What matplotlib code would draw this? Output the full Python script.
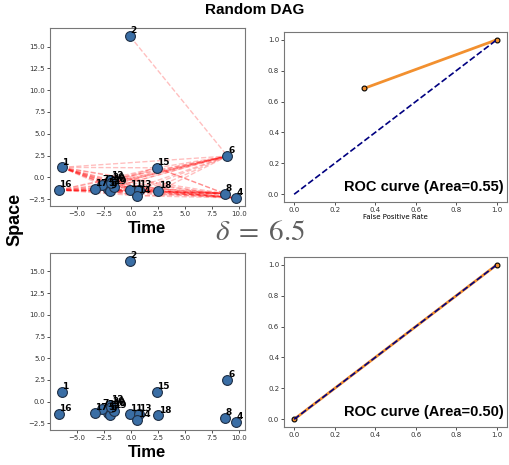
import matplotlib.pyplot as plt
from matplotlib.ticker import MultipleLocator

# node positions (time, space)
node_ids = list(range(1, 21))
time_x = [-6.4, -0.1, -2.2, 9.7, -2.1, 8.9, -2.7, 8.65, -1.9, -1.7,
          -0.1, -1.9, 0.7, 0.6, 2.4, -6.65, -3.35, 2.5, -1.6, -1.8]
space_y = [1.15, 16.2, -0.9, -2.35, -1.3, 2.45, -0.85, -1.85, -1.55, -0.8,
           -1.45, -0.35, -1.45, -2.1, 1.1, -1.45, -1.3, -1.6, -1.1, -0.6]

# edges of the random DAG (source, target)
edges = [(2, 6),
         (1, 6), (1, 15), (1, 7), (1, 3), (1, 12), (1, 20), (1, 10), (1, 19),
         (1, 11), (1, 13), (1, 14), (1, 18), (1, 8), (1, 4),
         (16, 17), (16, 5), (16, 9), (16, 19), (16, 11), (16, 13), (16, 14),
         (16, 18), (16, 8), (16, 4), (16, 6), (16, 15), (16, 3), (16, 7),
         (17, 6), (17, 8), (17, 4), (17, 18), (17, 14), (17, 15),
         (7, 6), (7, 8), (7, 4), (3, 6), (3, 8), (3, 4), (12, 6), (12, 15),
         (12, 8), (20, 6), (20, 4), (10, 6), (10, 8), (5, 4), (5, 6), (9, 8),
         (9, 4), (9, 14), (19, 6), (19, 4), (19, 18),
         (11, 6), (11, 8), (11, 4), (13, 6), (13, 8), (14, 4), (14, 8), (14, 6),
         (15, 6), (15, 8), (15, 4), (18, 6), (18, 8), (18, 4)]

# ROC curves
fpr_top = [0.345, 1.0]
tpr_top = [0.685, 1.0]
auc_top = 0.55
fpr_bot = [0.0, 1.0]
tpr_bot = [0.0, 1.0]
auc_bot = 0.50
delta = 6.5

bold_font = ['Liberation Sans', 'DejaVu Sans']
plt.rcParams['mathtext.fontset'] = 'stix'

fig = plt.figure(figsize=(5.1, 4.65), dpi=100)
W, H = 510, 465


def add_ax(x0, y0, x1, y1):
    return fig.add_axes([x0 / W, 1 - y1 / H, (x1 - x0) / W, (y1 - y0) / H])


ax_tl = add_ax(50, 28, 245, 206)
ax_tr = add_ax(284, 32, 507, 202)
ax_bl = add_ax(50, 253, 245, 430)
ax_br = add_ax(284, 257, 507, 427)

pos = {n: (x, y) for n, x, y in zip(node_ids, time_x, space_y)}


def draw_graph(ax, with_edges):
    if with_edges:
        for a, b in edges:
            ax.plot([pos[a][0], pos[b][0]], [pos[a][1], pos[b][1]],
                    color='red', ls='--', lw=1.0, alpha=0.25, zorder=1)
    ax.scatter(time_x, space_y, s=50, color='#3a6ea5', edgecolors='#1f2f45',
               linewidths=0.8, zorder=3)
    for n, x, y in zip(node_ids, time_x, space_y):
        ax.text(x + 0.05, y + 0.1, str(n), fontsize=6.5, fontweight='bold',
                ha='left', va='bottom', zorder=4)
    ax.xaxis.set_major_locator(MultipleLocator(2.5))
    ax.set_xlabel('Time', fontsize=12, fontweight='bold', family=bold_font,
                  labelpad=3)


def draw_roc(ax, fpr, tpr, auc, xlabel=None):
    ax.plot(fpr, tpr, color='#f2902f', lw=2, marker='o', markersize=3.5,
            markeredgecolor='black', markeredgewidth=0.8, zorder=2)
    ax.plot([0, 1], [0, 1], color='navy', lw=1.2, ls='--', zorder=3)
    ax.text(0.985, 0.05, 'ROC curve (Area=%.2f)' % auc, transform=ax.transAxes,
            ha='right', va='bottom', fontsize=10.5, fontweight='bold',
            family=bold_font)
    ax.set_xticks([0, 0.2, 0.4, 0.6, 0.8, 1.0])
    if xlabel:
        ax.set_xlabel(xlabel, fontsize=5, labelpad=1)


draw_graph(ax_tl, True)
draw_graph(ax_bl, False)
draw_roc(ax_tr, fpr_top, tpr_top, auc_top, 'False Positive Rate')
draw_roc(ax_br, fpr_bot, tpr_bot, auc_bot)

for ax in [ax_tl, ax_tr, ax_bl, ax_br]:
    ax.tick_params(labelsize=5, length=2, width=0.6, pad=1.5,
                   colors='#333333')
    for sp in ax.spines.values():
        sp.set_color('#777777')
        sp.set_linewidth(0.8)

fig.text(0.5, 1 - 10 / H, 'Random DAG', ha='center', va='center',
         fontsize=11, fontweight='bold', family=bold_font)
fig.text(15 / W, 1 - 219 / H, 'Space', rotation=90, ha='center', va='center',
         fontsize=13, fontweight='bold', family=bold_font)
fig.text(260 / W, 1 - 232 / H, r'$\delta\;=\;%.1f$' % delta, ha='center',
         va='center', fontsize=21, color='#606060')

fig.savefig('out.png', dpi=100)
